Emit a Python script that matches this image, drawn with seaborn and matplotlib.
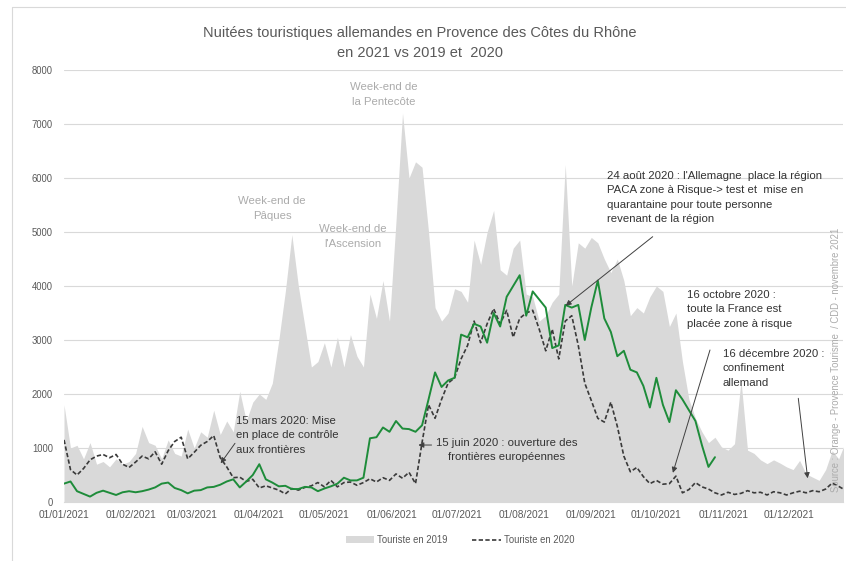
import pandas as pd
import matplotlib
matplotlib.use("Agg")
import matplotlib.pyplot as plt
from matplotlib import font_manager
from matplotlib.lines import Line2D
from matplotlib.patches import Patch
import seaborn as sns

# ---------------- data (one value every 3 days from 01/01) ----------------
tourist_2019 = [
    1800, 1000, 1050, 800, 1100, 700, 750, 650, 800, 700,
    750, 900, 1400, 1100, 1050, 800, 1150, 900, 850, 1350,
    1000, 1300, 1200, 1700, 1250, 1500, 1300, 2050, 1500, 1850,
    2000, 1900, 2200, 3000, 3900, 4950, 4000, 3250, 2500, 2600,
    2950, 2500, 3050, 2500, 3100, 2700, 2500, 3850, 3400, 4100,
    3350, 5200, 7200, 6000, 6300, 6200, 5000, 3600, 3350, 3500,
    3950, 3900, 3700, 4850, 4400, 5000, 5400, 4300, 4200, 4700,
    4850, 3850, 3800, 3350, 3450, 3700, 3850, 6250, 4000, 4800,
    4700, 4900, 4800, 4500, 4250, 4500, 4100, 3450, 3600, 3500,
    3800, 4000, 3900, 3250, 3500, 2600, 1900, 1550, 1300, 1100,
    1200, 1020, 960, 1080, 2250, 960, 900, 780, 710, 780,
    720, 650, 600, 770, 520, 460, 400, 600, 950, 800,
    1100,
]
tourist_2020 = [
    1150, 600, 500, 620, 780, 850, 880, 820, 880, 700,
    640, 740, 850, 800, 930, 700, 950, 1120, 1200, 800,
    920, 1050, 1120, 1230, 820, 650, 450, 460, 380, 420,
    260, 300, 260, 220, 150, 250, 220, 270, 300, 360,
    280, 400, 280, 360, 370, 310, 360, 430, 370, 450,
    400, 520, 440, 550, 340, 1100, 1800, 1550, 1900, 2200,
    2300, 2650, 2900, 3350, 2950, 3300, 3580, 3300, 3550, 3050,
    3400, 3500, 3550, 3200, 2800, 3200, 2650, 3350, 3450, 2900,
    2200, 1880, 1550, 1480, 1850, 1400, 850, 560, 640, 470,
    340, 400, 330, 340, 480, 170, 230, 360, 280, 240,
    170, 130, 180, 140, 160, 210, 170, 180, 130, 190,
    170, 130, 170, 200, 170, 210, 190, 240, 350, 290,
    220,
]
tourist_2021 = [
    340, 380, 200, 150, 100, 170, 210, 170, 130, 180,
    200, 180, 200, 230, 270, 340, 360, 260, 220, 160,
    210, 220, 270, 280, 320, 380, 420, 270, 380, 500,
    700, 420, 360, 290, 300, 240, 240, 280, 270, 200,
    250, 290, 340, 450, 400, 400, 450, 1180, 1200, 1380,
    1300, 1500, 1360, 1350, 1300, 1420, 1900, 2400, 2130, 2250,
    2300, 3100, 3050, 3300, 3250, 2950, 3500, 3250, 3800, 4000,
    4200, 3450, 3900, 3750, 3600, 2850, 2900, 3650, 3600, 3650,
    3000, 3600, 4100, 3400, 3150, 2700, 2800, 2450, 2400, 2150,
    1750, 2300, 1800, 1480, 2070, 1900, 1700, 1500, 1050, 650,
    830,
]
legend_labels = ["Touriste en 2019", "Touriste en 2020"]
month_labels = ["01/01/2021", "01/02/2021", "01/03/2021", "01/04/2021",
                "01/05/2021", "01/06/2021", "01/07/2021", "01/08/2021",
                "01/09/2021", "01/10/2021", "01/11/2021", "01/12/2021"]
y_ticks = [0, 1000, 2000, 3000, 4000, 5000, 6000, 7000, 8000]

title = ("Nuitées touristiques allemandes en Provence des Côtes du Rhône\n"
         "en 2021 vs 2019 et  2020")
source = "Source : Orange - Provence Tourisme  / CDD - novembre 2021"

# ---------------- style ----------------
sns.set_theme(style="white")
names = {f.name for f in font_manager.fontManager.ttflist}
narrow = "Liberation Sans Narrow" in names
FONT = "Liberation Sans Narrow" if narrow else "Liberation Sans"
plt.rcParams["font.family"] = [FONT, "DejaVu Sans"]
k = 1.0 if narrow else 0.86

GRAY_AREA = "#D9D9D9"
DASH_COL = "#3A3A3A"
GREEN = "#1E8C3A"
TXT = "#595959"
ANN = "#333333"
LIGHT = "#ABABAB"

base = pd.Timestamp("2021-01-01")
dates_long = pd.date_range(base, periods=len(tourist_2019), freq="3D")
dates_2021 = pd.date_range(base, periods=len(tourist_2021), freq="3D")
df_long = pd.DataFrame({"date": dates_long, "y2019": tourist_2019, "y2020": tourist_2020})
df_2021 = pd.DataFrame({"date": dates_2021, "y2021": tourist_2021})

W, H = 846, 561
fig = plt.figure(figsize=(W / 100, H / 100), dpi=100)
fig.patch.set_facecolor("white")
ax = fig.add_axes([64 / W, 59 / H, 779 / W, 432 / H])

ax.fill_between(df_long["date"], df_long["y2019"], color=GRAY_AREA, lw=0, zorder=1)
sns.lineplot(data=df_long, x="date", y="y2020", ax=ax, color=DASH_COL, lw=1.2,
             linestyle=(0, (2.6, 1.4)), zorder=3)
sns.lineplot(data=df_2021, x="date", y="y2021", ax=ax, color=GREEN, lw=1.4, zorder=4)

ax.set_xlim(base, base + pd.Timedelta(days=359))
ax.set_ylim(0, 8000)
ax.set_yticks(y_ticks)
ax.set_yticklabels([str(v) for v in y_ticks])
ax.set_xticks(pd.to_datetime(month_labels, format="%d/%m/%Y"))
ax.set_xticklabels(month_labels)
ax.set_xlabel("")
ax.set_ylabel("")
ax.yaxis.grid(True, color="#D9D9D9", lw=0.8)
ax.xaxis.grid(False)
ax.set_axisbelow(True)
for s in ["top", "right", "left"]:
    ax.spines[s].set_visible(False)
ax.spines["bottom"].set_color("#D9D9D9")
ax.spines["bottom"].set_linewidth(0.8)
ax.spines["bottom"].set_zorder(5)
ax.tick_params(axis="x", length=3.5, width=0.8, color="#D9D9D9", pad=2,
               labelsize=8.5 * k, labelcolor=TXT)
ax.tick_params(axis="y", length=0, pad=8, labelsize=8 * k, labelcolor=TXT)


def pos(day, val):
    return (base + pd.Timedelta(days=day), val)


# weekend labels
for txt, d, v in [("Week-end de\nPâques", 96, 5430),
                  ("Week-end de\nl'Ascension", 133.3, 4920),
                  ("Week-end de\nla Pentecôte", 147.5, 7540)]:
    ax.text(*pos(d, v), txt, ha="center", va="center", color=LIGHT,
            fontsize=9.5 * k, linespacing=1.6, zorder=6)

# event annotations
ann_kw = dict(color=ANN, fontsize=9.5 * k, linespacing=1.55, zorder=6)
ax.text(*pos(250.2, 6130), "24 août 2020 : l'Allemagne  place la région\n"
        "PACA zone à Risque-> test et  mise en\nquarantaine pour toute personne\n"
        "revenant de la région", ha="left", va="top", **ann_kw)
ax.text(*pos(286.9, 3926), "16 octobre 2020 :\ntoute la France est\nplacée zone à risque",
        ha="left", va="top", **ann_kw)
ax.text(*pos(303.5, 2833), "16 décembre 2020 :\nconfinement\nallemand",
        ha="left", va="top", **ann_kw)
ax.text(*pos(79.3, 1593), "15 mars 2020: Mise\nen place de contrôle\naux frontières",
        ha="left", va="top", **ann_kw)
ax.text(*pos(204.0, 1185), "15 juin 2020 : ouverture des\nfrontières européennes",
        ha="center", va="top", multialignment="center", **ann_kw)

arrow_kw = dict(arrowstyle="-|>", color="#404040", lw=0.7, mutation_scale=8,
                shrinkA=0, shrinkB=0)
for start, tip in [((271.3, 4913), (231.2, 3635)),
                   ((297.7, 2815), (280.6, 540)),
                   ((338.4, 1920), (342.7, 440)),
                   ((78.8, 1087), (72.2, 717)),
                   ((169.4, 1055), (163.3, 1055))]:
    ax.annotate("", xy=pos(*tip), xytext=pos(*start), arrowprops=arrow_kw, zorder=7)

# title
fig.text(420 / W, 1 - 43 / H, title, ha="center", va="center", color=TXT,
         fontsize=12.2 * k, linespacing=1.55)

# source (vertical)
fig.text(836 / W, 1 - 360 / H, source, rotation=90, ha="center", va="center",
         color=LIGHT, fontsize=8 * k)

# legend
handles = [Patch(facecolor=GRAY_AREA, edgecolor="none"),
           Line2D([0], [0], color=DASH_COL, lw=1.2, linestyle=(0, (2.6, 1.4)))]
fig.legend(handles, legend_labels, loc="center", bbox_to_anchor=(460 / W, 1 - 540 / H),
           ncol=2, frameon=False, fontsize=8 * k, labelcolor=TXT, handlelength=3.0,
           handleheight=0.8, handletextpad=0.3, columnspacing=2.6)

# chart outline (top & left edges visible)
fig.add_artist(Line2D([12 / W, 1], [1 - 7 / H, 1 - 7 / H], color="#D9D9D9", lw=0.8))
fig.add_artist(Line2D([12 / W, 12 / W], [0, 1 - 7 / H], color="#D9D9D9", lw=0.8))

fig.savefig("out.png", dpi=100, facecolor="white")
